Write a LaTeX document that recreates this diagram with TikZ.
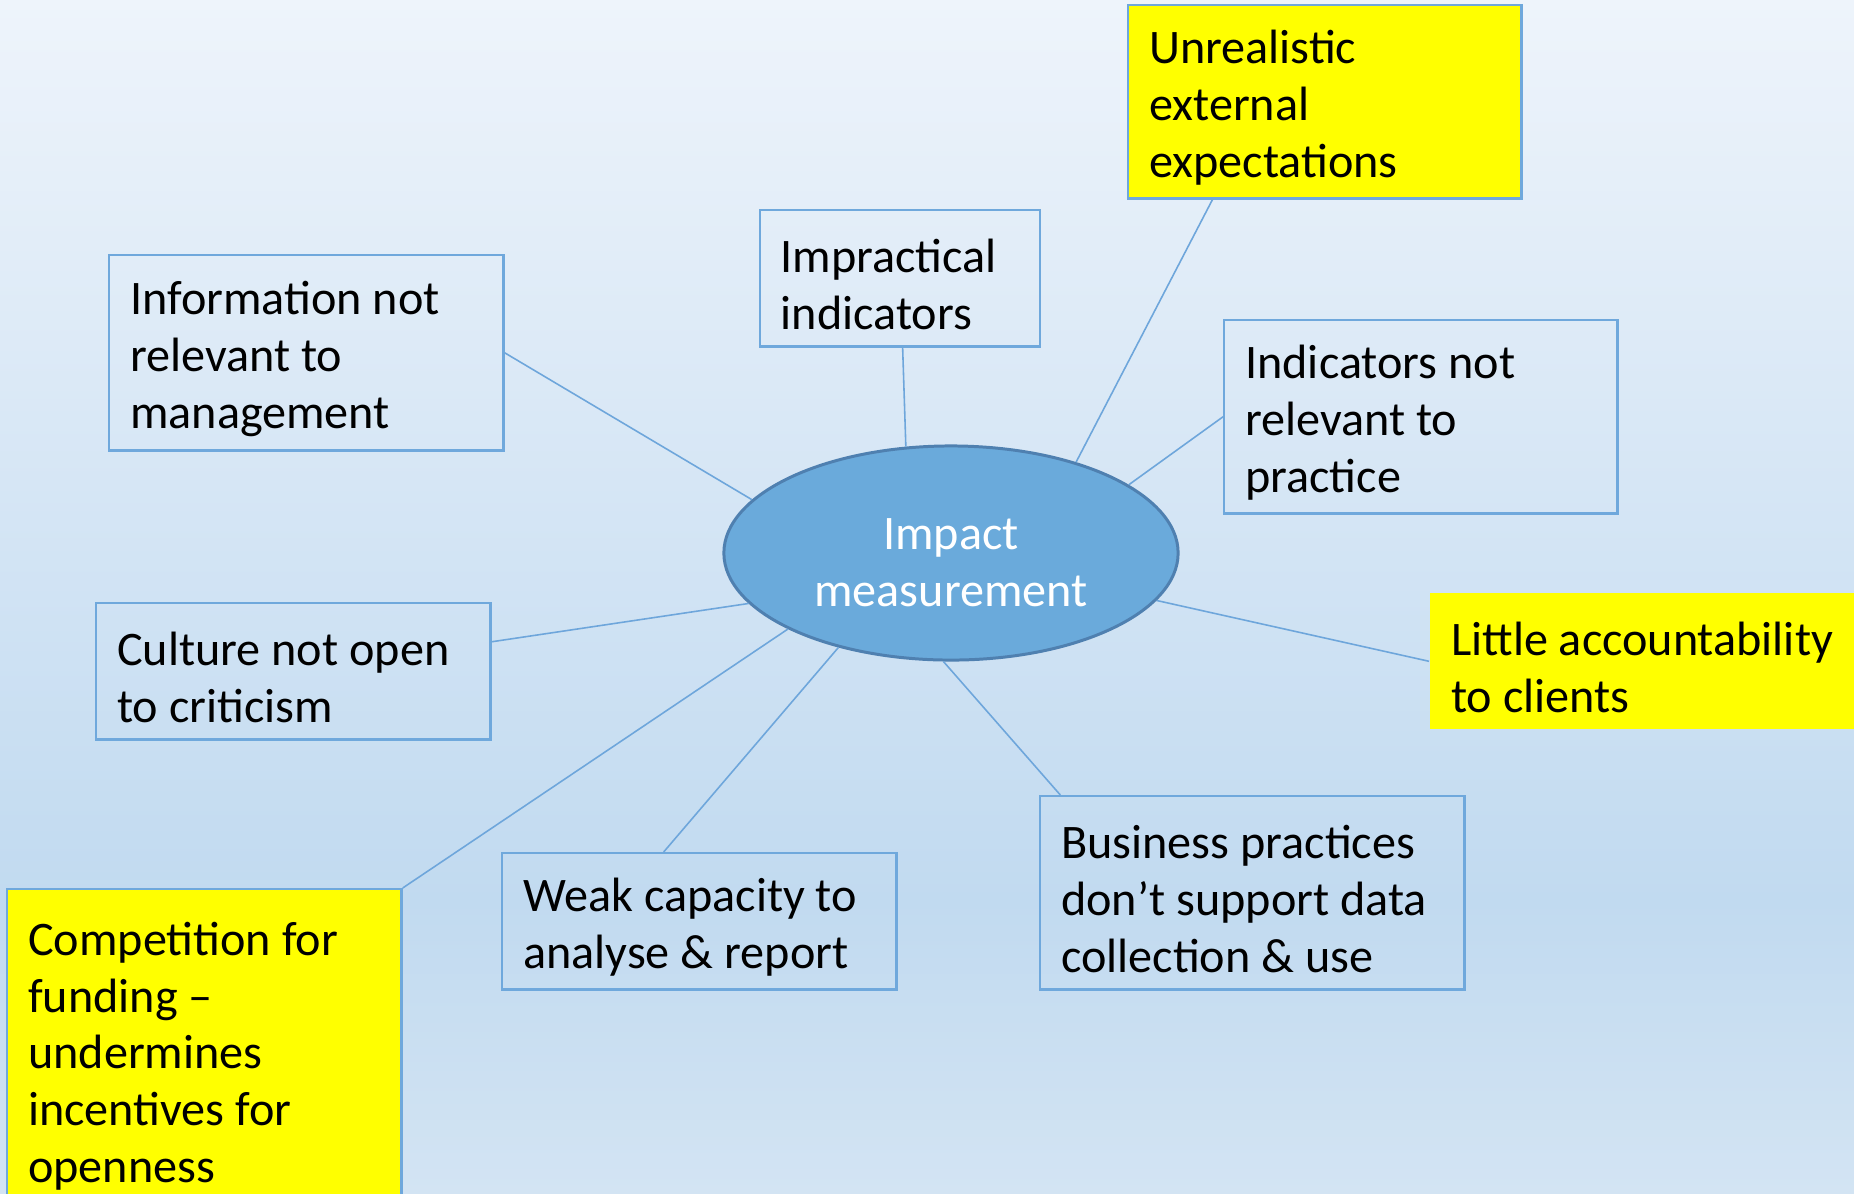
\documentclass[tikz,border=0pt]{standalone}
\usepackage{fontspec}
\setmainfont{Carlito}
\usetikzlibrary{shapes.geometric,calc}

\definecolor{bgtop}{HTML}{EEF4FB}
\definecolor{bgdark}{HTML}{C1DAF0}
\definecolor{bgbot}{HTML}{D3E4F3}
\definecolor{cardline}{HTML}{6FA8DC}
\definecolor{linkblue}{HTML}{6EA6DB}
\definecolor{hubfill}{HTML}{6AAADB}
\definecolor{hubline}{HTML}{4F80B0}
\definecolor{hilite}{HTML}{FFFF00}

\newcommand\cardfont{\fontsize{13.7pt}{16.2pt}\selectfont}

\tikzset{
  card/.style={draw=cardline, line width=0.7pt, anchor=north west, align=left,
    inner xsep=0.21cm, inner ysep=0pt, font=\cardfont,
    execute at begin node={\spaceskip=0pt\xspaceskip=0pt\rule{0pt}{0.45cm}}},
  hub/.style={ellipse, draw=hubline, fill=hubfill, line width=0.85pt,
    minimum width=4.54cm, minimum height=2.14cm, inner sep=0pt, align=center,
    text=white, font=\cardfont, text height=1.14cm, text depth=0.08cm},
  link/.style={draw=linkblue, line width=0.45pt}
}

\begin{document}
\begin{tikzpicture}[x=0.01cm, y=-0.01cm]
  \useasboundingbox (0,0) rectangle (1854,1193);
  \clip (0,0) rectangle (1854,1193);
  %
  \shade[top color=bgtop, bottom color=bgdark] (0,0) rectangle (1854,901);
  \shade[top color=bgdark, bottom color=bgbot] (0,900) rectangle (1854,1193);
  %
  \node[hub] (impact) at (951,553) {Impact\\measurement};
  %
  \node[card, fill=hilite, text width=3.51cm, minimum height=1.93cm] (unreal) at (1127,4)
    {Unrealistic\\external\\expectations};                          % top
  \node[card, text width=2.38cm, minimum height=1.36cm] (impract) at (758.5,209)
    {Impractical\\indicators};
  \node[card, text width=3.52cm, minimum height=1.95cm] (info) at (108,254)
    {Information not\\relevant to\\management};                     % top left
  \node[card, text width=3.51cm, minimum height=1.93cm] (indic) at (1223,319)
    {Indicators not\\relevant to\\practice};                         % top right
  %%
  \node[card, text width=3.52cm, minimum height=1.36cm] (culture) at (95,602)
    {Culture not open\\to criticism};                                % left
  \node[card, draw=none, fill=hilite, text width=4.18cm, minimum height=1.36cm] (little) at (1429,592)
    {Little accountability\\to clients};                             % right
  %%
  \node[card, text width=3.82cm, minimum height=1.93cm] (business) at (1039,795)
    {Business practices\\don’t support data\\collection \& use};      % bottom right
  \node[card, text width=3.52cm, minimum height=1.36cm] (weak) at (501,852)
    {Weak capacity to\\analyse \& report};
  \node[card, fill=hilite, text width=3.52cm, minimum height=3.22cm] (compet) at (6,888)
    {Competition for\\funding --\\undermines\\incentives for\\openness}; % bottom left
  %
  \draw[link] (info.east) -- (impact.165.4);
  \draw[link] ($(impract.south west)!0.51!(impract.south east)$) -- (impact.113.2);
  \draw[link] ($(unreal.south west)!0.216!(unreal.south east)$) -- (impact.36.3);
  \draw[link] (indic.west) -- (impact.21.7);
  \draw[link] ($(culture.north east)!0.287!(culture.south east)$) -- (impact.194.3);
  \draw[link] (little.west) -- (impact.347.4);
  \draw[link] ($(business.north west)!0.05!(business.north east)$) -- (impact.266.9);
  \draw[link] ($(weak.north west)!0.41!(weak.north east)$) -- (impact.220.2);
  \draw[link] (compet.north east) -- (impact.205.7);
  %
\end{tikzpicture}
\end{document}
